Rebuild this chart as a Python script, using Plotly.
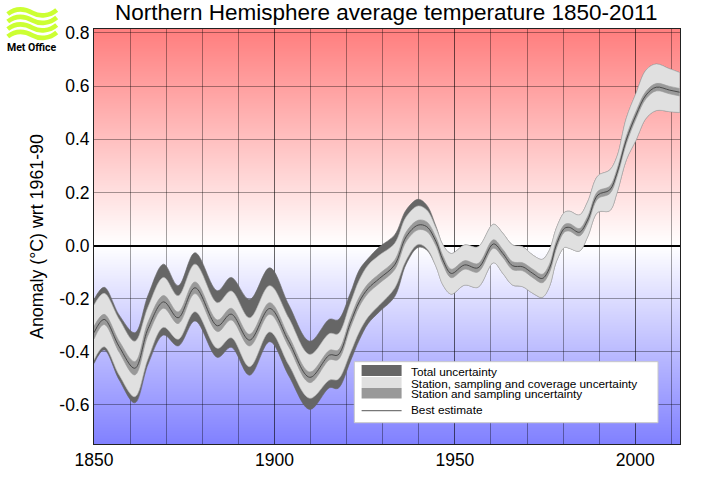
import plotly.graph_objects as go

TITLE = "Northern Hemisphere average temperature 1850-2011"
YLABEL = "Anomaly (°C) wrt 1961-90"
ytick_vals = [0.8, 0.6, 0.4, 0.2, 0.0, -0.2, -0.4, -0.6]
ytick_text = ["0.8", "0.6", "0.4", "0.2", "0.0", "-0.2", "-0.4", "-0.6"]
xtick_vals = [1850, 1900, 1950, 2000]
xtick_text = ["1850", "1900", "1950", "2000"]
legend_labels = ["Total uncertainty", "Station, sampling and coverage uncertainty",
                 "Station and sampling uncertainty", "Best estimate"]

years = [1850,1852.8,1857,1861.3,1865,1869.3,1873.3,1878,1884.2,1888,1893.1,1898.7,1904,1909.8,
         1915.3,1917.6,1921,1923.5,1926,1929.1,1933.3,1936.5,1939.8,1942.2,1944.8,1946.7,1949,
         1952.7,1956.4,1960.7,1963.3,1966,1968.8,1971.6,1974.2,1976.2,1978.1,1980.4,1981.8,1984.5,
         1986.8,1989.6,1992.9,1994.9,1997.5,2000.2,2003,2005.8,2009.5,2012.3]
total_hi = [-0.203,-0.157,-0.262,-0.328,-0.186,-0.07,-0.151,-0.027,-0.17,-0.12,-0.203,-0.084,-0.224,-0.36,
            -0.277,-0.28,-0.18,-0.092,-0.048,-0.005,0.04,0.134,0.174,0.152,0.071,0.002,-0.03,
            0.002,-0.005,0.08,0.046,0.002,-0.005,-0.036,-0.052,-0.017,0.065,0.125,0.129,0.115,
            0.165,0.262,0.284,0.334,0.479,0.573,0.661,0.683,0.665,0.651]
cover_hi = [-0.224,-0.18,-0.278,-0.36,-0.23,-0.12,-0.189,-0.07,-0.215,-0.171,-0.272,-0.151,-0.274,-0.41,
            -0.331,-0.333,-0.218,-0.13,-0.073,-0.036,0.008,0.108,0.149,0.134,0.065,0.002,-0.03,
            0.002,-0.005,0.08,0.046,0.002,-0.005,-0.036,-0.052,-0.017,0.065,0.125,0.129,0.115,
            0.165,0.262,0.284,0.334,0.479,0.573,0.661,0.683,0.665,0.651]
best = [-0.328,-0.278,-0.381,-0.462,-0.312,-0.212,-0.272,-0.159,-0.302,-0.258,-0.356,-0.237,-0.362,-0.496,
        -0.412,-0.412,-0.293,-0.212,-0.161,-0.124,-0.073,0.033,0.077,0.071,0.014,-0.055,-0.105,
        -0.073,-0.084,0.006,-0.03,-0.076,-0.08,-0.105,-0.124,-0.086,0.002,0.065,0.068,0.05,
        0.096,0.19,0.209,0.272,0.397,0.491,0.567,0.596,0.585,0.577]
cover_lo = [-0.431,-0.381,-0.488,-0.569,-0.425,-0.308,-0.353,-0.249,-0.387,-0.347,-0.456,-0.325,-0.45,-0.575,
            -0.506,-0.504,-0.405,-0.325,-0.268,-0.224,-0.161,-0.055,0.004,-0.011,-0.08,-0.149,-0.183,
            -0.149,-0.157,-0.065,-0.105,-0.149,-0.155,-0.18,-0.195,-0.155,-0.061,-0.007,-0.011,-0.021,
            0.033,0.125,0.131,0.197,0.322,0.397,0.479,0.508,0.504,0.501]
total_lo = [-0.444,-0.393,-0.506,-0.592,-0.446,-0.337,-0.378,-0.284,-0.421,-0.383,-0.488,-0.362,-0.491,-0.617,
            -0.535,-0.538,-0.437,-0.356,-0.293,-0.249,-0.193,-0.07,-0.007,-0.017,-0.08,-0.149,-0.183,
            -0.149,-0.157,-0.065,-0.105,-0.149,-0.155,-0.18,-0.195,-0.155,-0.061,-0.007,-0.011,-0.021,
            0.033,0.125,0.131,0.197,0.322,0.397,0.479,0.508,0.504,0.501]
station_half = [0.024,0.019,0.021,0.025,0.025,0.024,0.022,0.022,0.022,0.022,0.022,0.022,0.02,0.02,
                0.018,0.018,0.018,0.018,0.018,0.018,0.018,0.018,0.018,0.018,0.016,0.016,0.016,
                0.016,0.016,0.016,0.015,0.015,0.015,0.016,0.016,0.016,0.015,0.014,0.014,0.014,
                0.014,0.014,0.014,0.014,0.014,0.014,0.014,0.014,0.014,0.014]

W, H = 708, 504
L, R, T, B = 94.3, 680.5, 29, 444
YMIN, YMAX = -0.747, 0.815
DARK, LIGHT, MID = "#666666", "#e0e0e0", "#999999"

def px(x):
    return (x - L) / (R - L)

def py(y):
    return 1 - (y - T) / (B - T)

def band(lo, hi, color, edge=None):
    edge_line = dict(color=edge or color, width=0.6, shape="spline", smoothing=1)
    return [
        go.Scatter(x=years, y=lo, mode="lines", line=edge_line, hoverinfo="skip"),
        go.Scatter(x=years, y=hi, mode="lines", line=edge_line, fill="tonexty",
                   fillcolor=color, hoverinfo="skip"),
    ]

station_hi = [b + h for b, h in zip(best, station_half)]
station_lo = [b - h for b, h in zip(best, station_half)]

fig = go.Figure()
for t in band(total_lo, total_hi, DARK) + band(cover_lo, cover_hi, LIGHT, "#b8b8b8") + band(station_lo, station_hi, MID):
    fig.add_trace(t)
fig.add_trace(go.Scatter(x=years, y=best, mode="lines", hoverinfo="skip",
                         line=dict(color="#4a4a4a", width=1, shape="spline", smoothing=1)))

shapes = []
# background gradient, below the gridlines: each strip reaches the top and the next paints over it
step = 1 / 265.6
v = YMIN
while v < YMAX:
    mid = v + step / 2
    if mid >= 0:
        t = min(mid / 0.8, 1)
        col = f"rgb(255,{round(255 - 127 * t)},{round(255 - 127 * t)})"
    else:
        t = min(-mid / 0.75, 1)
        col = f"rgb({round(255 - 127 * t)},{round(255 - 127 * t)},255)"
    shapes.append(dict(type="rect", xref="paper", yref="y", x0=0, x1=1, y0=v, y1=YMAX,
                       fillcolor=col, line=dict(width=0), layer="below"))
    v += step

def rect(x0, y0, x1, y1, fill, line=None):
    return dict(type="rect", xref="paper", yref="paper", x0=px(x0), x1=px(x1), y0=py(y0), y1=py(y1),
                fillcolor=fill, line=dict(color=line or fill, width=1 if line else 0), layer="above")

# legend
shapes.append(rect(354.7, 361.7, 658.5, 422.7, "white", "#c8c8c8"))
shapes.append(rect(362, 365, 402, 376, DARK))
shapes.append(rect(362, 377, 402, 388, LIGHT))
shapes.append(rect(362, 388, 402, 398.5, MID))
shapes.append(dict(type="line", xref="paper", yref="paper", x0=px(362), x1=px(402), y0=py(410.7), y1=py(410.7),
                   line=dict(color="#777777", width=1.2), layer="above"))

# logo waves
def wave(b):
    pts = [(8, b + 2), (17, b - 5), (26, b - 3), (33, b + 1), (40, b + 5), (50, b + 4), (57, b - 2)]
    p = [f"{px(x)},{py(y)}" for x, y in pts]
    return dict(type="path", xref="paper", yref="paper",
                path=f"M{p[0]} C{p[1]} {p[2]} {p[3]} C{p[4]} {p[5]} {p[6]}",
                line=dict(color="#ccff33", width=4.6), layer="above")

for b in [12, 19.5, 27, 34.5]:
    shapes.append(wave(b))

FONT = "Liberation Sans"
annotations = [dict(text=TITLE, xref="paper", yref="paper", x=px(386.5), y=py(12), showarrow=False,
                    font=dict(size=22.5, color="black", family=FONT), xanchor="center", yanchor="middle"),
               dict(text="<b>Met Office</b>", xref="paper", yref="paper", x=px(32), y=py(47), showarrow=False,
                    font=dict(size=10.5, color="black", family="Roboto"), xanchor="center", yanchor="middle")]
for label, y in zip(legend_labels, [372, 383.5, 394, 410]):
    annotations.append(dict(text=label, xref="paper", yref="paper", x=px(409), y=py(y), showarrow=False,
                            xanchor="left", yanchor="middle", font=dict(size=11.8, color="black", family=FONT)))

GRID = "rgba(0,0,0,0.36)"
fig.update_layout(
    width=W, height=H, showlegend=False, paper_bgcolor="white", plot_bgcolor="white",
    margin=dict(l=L, r=W - R, t=T, b=H - B, autoexpand=False),
    font=dict(family=FONT, color="black"),
    shapes=shapes, annotations=annotations,
    xaxis=dict(range=[1850, 1850 + (R - L) / 3.61], tickmode="array", tickvals=xtick_vals, ticktext=xtick_text,
               tickfont=dict(size=17.5), ticks="", showgrid=True, gridcolor=GRID, gridwidth=1,
               minor=dict(tickmode="linear", tick0=1850, dtick=10, showgrid=True, gridcolor=GRID, gridwidth=1),
               showline=True, mirror=True, linecolor="#222222", linewidth=1, zeroline=False),
    yaxis=dict(range=[YMIN, YMAX], tickmode="array", tickvals=ytick_vals, ticktext=ytick_text,
               tickfont=dict(size=17.5), ticks="", showgrid=True, gridcolor=GRID, gridwidth=1,
               showline=True, mirror=True, linecolor="#222222", linewidth=1,
               zeroline=True, zerolinecolor="black", zerolinewidth=2,
               title=dict(text=YLABEL, font=dict(size=17.8), standoff=11)),
)
fig.write_html("out.html", config=dict(displayModeBar=False), post_script="document.body.style.margin='0';")
